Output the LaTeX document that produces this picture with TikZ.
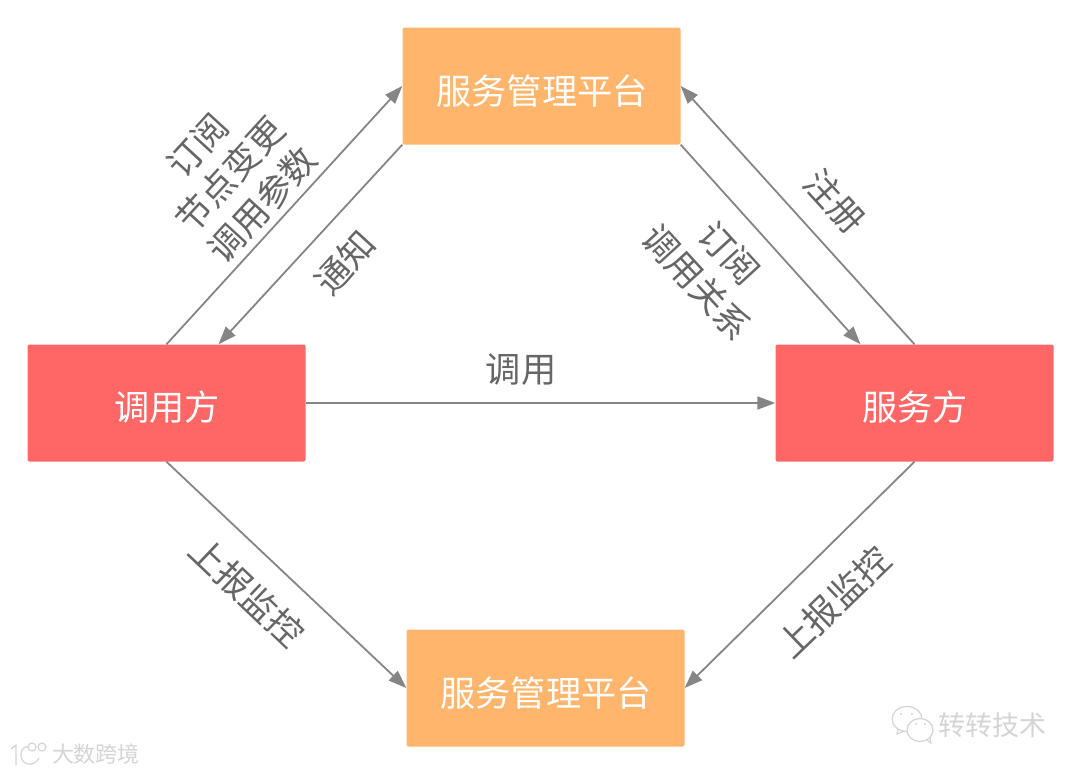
\documentclass[tikz,border=0pt]{standalone}
\usepackage{fontspec}
\usetikzlibrary{arrows.meta,calc}
\setmainfont{Noto Sans CJK SC}
\definecolor{boxorange}{HTML}{FFB56B}
\definecolor{boxred}{HTML}{FF6666}
\definecolor{linkgray}{HTML}{858585}
\definecolor{labelgray}{HTML}{666666}
\definecolor{markgray}{HTML}{D4D4D4}
\tikzset{
  cardbox/.style={rounded corners=2pt,minimum width=278pt,minimum height=117pt,inner sep=0pt},
  platbox/.style={cardbox,fill=boxorange},
  partybox/.style={cardbox,fill=boxred},
  cardtext/.style={text=white,font=\fontsize{35.2}{40}\selectfont,inner sep=0pt},
  link/.style={draw=linkgray,line width=1.8pt,-{Triangle[length=18pt,width=13pt]}},
  tag/.style={text=labelgray,font=\fontsize{35.2}{44}\selectfont,align=center,inner sep=0pt},
  wmark/.style={text=markgray,inner sep=0pt},
  markline/.style={draw=markgray,line width=1.2pt}
}
\begin{document}
\begin{tikzpicture}[x=1pt,y=-1pt]
\useasboundingbox (0,0) rectangle (1080,774);
\node[platbox] (top) at (541.5,86) {};
\node[platbox] (bot) at (545.5,688) {};
\node[partybox] (caller) at (166.5,403) {};
\node[partybox] (provider) at (914.5,403) {};
\node[cardtext] (toptext) at (542,91) {服务管理平台};
\node[cardtext] (bottext) at (546,693) {服务管理平台};
\node[cardtext] (callertext) at (167,407) {调用方};
\node[cardtext] (providertext) at (915,407) {服务方};

\draw[link] (caller.north) -- (top.west);
\draw[link] (top.south west) -- ($(caller.north)+(52,0)$);
\draw[link] (top.south east) -- ($(provider.north)+(-54,0)$);
\draw[link] (provider.north) -- (top.east);
\draw[link] (caller.east) -- (provider.west);
\draw[link] (caller.south) -- (bot.west);
\draw[link] (provider.south) -- (bot.east);

\node[tag,rotate=47.5] (l1) at (230,175) {订阅\\节点变更\\调用参数};
\node[tag,rotate=47.5] (l2) at (345,262) {通知};
\node[tag,rotate=-47.5] (l3) at (835,201) {注册};
\node[tag,rotate=-47.5] (l4) at (713,268) {订阅\\调用关系};
\node[tag] (l5) at (521,370) {调用};
\node[tag,rotate=-43.5] (l6) at (247,592) {上报监控};
\node[tag,rotate=44] (l7) at (834,602) {上报监控};

% watermarks
\node[wmark,font=\fontsize{22}{26}\selectfont] (wm1) at (96,754) {大数跨境};
\draw[markline] (11,749) -- (16,745) -- (16,765);
\draw[markline] (29,747) .. controls (20,744) and (17,762) .. (28,764) .. controls (33,765) and (37,762) .. (39,758);
\draw[markline] (32,747) circle[radius=4pt] (42,747) circle[radius=4pt];
\node[wmark,font=\fontsize{27}{30}\selectfont] (wm2) at (992,725) {转转技术};
\draw[markline,fill=white] (907,719) ellipse[x radius=15pt,y radius=12.5pt];
\draw[markline] (898,729) -- (897,734) -- (904,731);
\draw[markline,fill=white] (920,730) ellipse[x radius=13pt,y radius=11.5pt];
\draw[markline] (927,740) -- (931,743) -- (930,737);
\fill[markgray] (901,714) circle[radius=1.2pt] (912,714) circle[radius=1.2pt] (916,724) circle[radius=1.2pt] (925,724) circle[radius=1.2pt];
\end{tikzpicture}
\end{document}
